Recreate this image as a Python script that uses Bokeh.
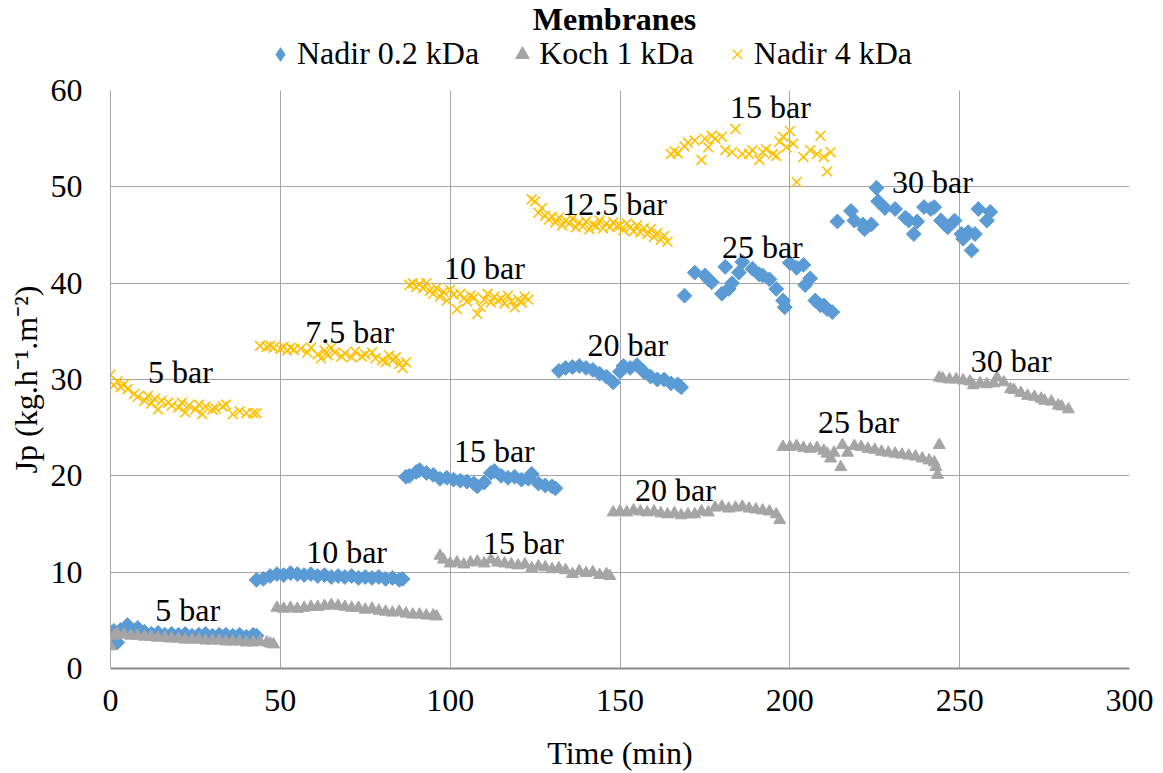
import numpy as np
from bokeh.plotting import figure
from bokeh.layouts import column
from bokeh.models import Range1d, Legend, LegendItem, FixedTicker
from bokeh.core.properties import value
from bokeh.embed import file_html
from bokeh.resources import INLINE

FONT = "Liberation Serif"
FS = "32px"
BLUE = "#5B9BD5"
GRAY = "#A5A5A5"
YELLOW = "#FFC000"

# ---------------- data ----------------
# Nadir 0.2 kDa : segments 5, 10, 15, 20, 25, 30 bar
nadir02_t = [
    0, 1, 2, 3, 5, 6, 8, 10, 12, 14, 16, 18, 20, 22, 24, 26, 28, 30, 32, 34, 36, 38, 40, 42, 43,
    43, 45, 47, 49, 51, 53, 55, 57, 59, 61, 63, 65, 67, 69, 71, 73, 75, 77, 79, 81, 83, 85, 86,
    87, 88, 90, 91, 93, 95, 97, 99, 101, 103, 105, 107, 108, 110, 112, 113, 115, 117, 119, 121, 123, 124, 126, 128, 130, 131,
    132, 134, 136, 138, 140, 142, 144, 146, 148, 150, 151, 153, 155, 157, 159, 161, 163, 165, 167, 168,
    169, 172, 175, 176, 177, 180, 181, 182, 183, 185, 186, 189, 191, 192, 194, 196, 198, 198.5, 200, 202, 204, 204.5, 206, 207.5, 209, 210, 211, 212.5,
    214, 218, 219, 221.5, 222, 224, 225.5, 226, 228, 231, 234, 235, 236.5, 237.5, 239.5, 241.5, 242.5, 244.5, 246.5, 248.5, 250.5, 251, 252.5, 253.5, 254.5, 255.5, 258, 259,
]
nadir02_jp = [
    3.8, 3.9, 2.7, 4.0, 4.5, 3.9, 4.2, 3.8, 3.6, 3.7, 3.5, 3.6, 3.5, 3.6, 3.4, 3.5, 3.6, 3.4, 3.5, 3.5, 3.4, 3.5, 3.3, 3.5, 3.4,
    9.2, 9.3, 9.6, 9.8, 9.7, 9.9, 9.8, 9.7, 9.8, 9.6, 9.7, 9.5, 9.6, 9.5, 9.6, 9.4, 9.5, 9.4, 9.5, 9.3, 9.4, 9.2, 9.3,
    19.9, 20.0, 20.4, 20.6, 20.3, 20.1, 19.7, 19.8, 19.6, 19.5, 19.4, 19.2, 18.9, 19.3, 20.3, 20.5, 20.0, 19.8, 19.9, 19.6, 19.7, 20.2, 19.2, 19.0, 18.9, 18.7,
    30.9, 31.2, 31.3, 31.4, 31.2, 31.0, 30.6, 30.3, 29.7, 30.8, 31.4, 31.2, 31.5, 30.8, 30.3, 30.0, 30.0, 29.6, 29.5, 29.2,
    38.7, 41.1, 40.8, 40.4, 40.1, 38.9, 41.7, 39.4, 40.0, 41.1, 42.2, 41.5, 40.9, 40.8, 40.4, 39.4, 38.2, 37.5, 42.1, 41.6, 41.9, 39.8, 40.5, 38.2, 37.7, 37.7, 37.3, 37.0,
    46.4, 47.5, 46.5, 46.1, 45.6, 46.1, 49.9, 48.5, 47.8, 47.7, 46.8, 46.5, 45.1, 46.4, 47.9, 47.7, 47.9, 46.5, 45.8, 46.5, 45.1, 44.6, 45.3, 43.4, 45.1, 47.7, 46.5, 47.4,
]

# Koch 1 kDa : segments 5, 10, 15, 20, 25, 30 bar
koch1_t = [
    0, 1, 2, 4, 6, 8, 10, 12, 14, 16, 18, 20, 22, 24, 26, 28, 30, 32, 34, 36, 38, 40, 42, 44, 46, 47, 48,
    49, 51, 53, 55, 57, 59, 61, 63, 65, 67, 69, 71, 73, 75, 77, 79, 81, 83, 85, 87, 89, 91, 93, 95, 96,
    97, 98, 100, 102, 104, 106, 108, 110, 112, 114, 116, 118, 120, 122, 124, 126, 128, 130, 132, 134, 136, 138, 140, 142, 144, 146, 147,
    148, 150, 152, 154, 156, 158, 160, 162, 164, 166, 168, 170, 172, 174, 176, 178, 180, 182, 184, 186, 188, 190, 192, 194, 196, 197,
    198, 200, 202, 204, 206, 208, 210, 211, 212, 213, 215, 215.5, 217, 219, 221, 223, 225, 227, 229, 231, 233, 235, 237, 239, 241, 242.5, 243, 243.5, 244,
    244, 245, 247, 249, 251, 253, 254, 256, 258, 260, 261, 263, 265, 266, 268, 270, 272, 274, 275, 277, 279, 280, 282,
]
koch1_jp = [
    2.3, 3.4, 3.6, 3.5, 3.4, 3.4, 3.3, 3.3, 3.2, 3.2, 3.1, 3.1, 3.0, 3.0, 3.0, 2.9, 2.9, 2.9, 2.8, 2.8, 2.8, 2.7, 2.7, 2.8, 2.7, 2.6, 2.5,
    6.3, 6.2, 6.3, 6.2, 6.3, 6.4, 6.4, 6.5, 6.6, 6.5, 6.4, 6.3, 6.3, 6.1, 6.2, 6.0, 5.9, 5.8, 5.9, 5.7, 5.6, 5.6, 5.5, 5.5, 5.4,
    11.7, 11.3, 10.9, 11.0, 10.8, 11.0, 11.1, 10.9, 11.3, 11.0, 10.9, 10.8, 10.7, 10.8, 10.4, 10.6, 10.5, 10.3, 10.4, 10.2, 9.8, 10.1, 9.9, 10.0, 9.7, 9.8, 9.6,
    16.2, 16.3, 16.2, 16.4, 16.3, 16.2, 16.3, 16.1, 16.0, 16.1, 15.9, 16.0, 16.0, 16.3, 16.2, 16.7, 16.8, 16.6, 16.7, 16.8, 16.6, 16.5, 16.4, 16.3, 16.0, 15.4,
    23.0, 23.0, 23.1, 22.9, 22.8, 22.9, 22.6, 22.3, 21.8, 22.4, 20.9, 23.2, 22.4, 23.1, 23.0, 22.8, 22.7, 22.5, 22.4, 22.3, 22.2, 22.1, 22.0, 21.8, 21.6, 21.4, 20.9, 20.1, 23.2,
    30.2, 30.1, 30.0, 30.0, 29.9, 29.8, 29.4, 29.6, 29.5, 29.6, 30.2, 29.7, 29.0, 28.9, 28.6, 28.3, 28.2, 28.0, 27.8, 27.7, 27.3, 27.2, 26.9,
]

# Nadir 4 kDa : segments 5, 7.5, 10, 12.5, 15 bar
nadir4_t = [
    0, 1, 2, 3, 4, 5, 7, 8, 10, 11, 12, 13, 14, 15, 17, 18, 20, 21, 22, 23, 25, 26, 27, 28, 30, 31, 33, 34, 36, 38, 40, 42, 43,
    44, 46, 47, 48, 50, 51, 52, 53, 54, 56, 58, 59, 61, 62, 63, 64, 65, 66, 68, 69, 71, 72, 74, 75, 77, 78, 80, 81, 82, 83, 84, 85, 86, 87,
    88, 89, 90, 91, 92, 93, 94, 95, 96, 97, 98, 99, 100, 101, 102, 103, 104, 105, 106, 107, 108, 109, 110, 111, 112, 113, 114, 115, 116, 117, 118, 119, 120, 121, 122, 123,
    124, 125, 126, 127, 128, 129, 130, 131, 132, 133, 134, 135, 136, 137, 138, 139, 140, 141, 142, 143, 144, 145, 146, 147, 148, 149, 150, 151, 152, 153, 154, 155, 156, 157, 158, 159, 160, 161, 162, 163, 164,
    165, 166, 167, 169, 170, 172, 174, 175, 176, 177, 178, 180, 181, 183, 184, 186, 188, 189, 191, 192, 193, 195, 196, 197, 198, 199, 200, 201, 202, 204, 206, 208, 209, 210, 211, 212,
]
nadir4_jp = [
    30.5, 29.4, 29.8, 29.2, 29.5, 29.0, 28.5, 28.2, 27.8, 28.3, 27.5, 28.0, 26.9, 27.8, 27.6, 27.3, 27.1, 27.6, 26.6, 27.3, 26.9, 27.4, 26.4, 27.2, 26.9, 27.0, 27.2, 27.4, 26.4, 26.7, 26.5, 26.5, 26.5,
    33.5, 33.4, 33.5, 33.3, 33.2, 33.4, 33.0, 33.3, 33.1, 33.2, 32.8, 33.3, 32.6, 32.2, 33.0, 32.5, 33.3, 32.8, 32.4, 32.7, 32.3, 32.9, 32.4, 32.6, 32.8, 32.2, 32.0, 31.8, 32.5, 32.0, 32.3, 31.6, 31.2, 31.8,
    39.8, 40.0, 39.6, 39.9, 39.5, 40.0, 39.2, 38.9, 39.5, 38.6, 39.1, 38.2, 39.3, 38.8, 37.3, 38.9, 38.4, 38.1, 38.7, 38.5, 36.8, 37.5, 38.3, 38.9, 38.0, 38.6, 38.2, 38.4, 37.9, 38.7, 38.1, 37.5, 38.3, 38.0, 38.6, 38.3,
    48.7, 48.5, 47.3, 47.8, 47.0, 46.6, 46.9, 46.3, 46.8, 46.0, 46.5, 46.2, 46.7, 45.8, 46.3, 45.9, 46.4, 45.6, 46.1, 45.9, 46.5, 45.7, 46.2, 45.8, 46.3, 45.9, 46.0, 45.5, 46.2, 45.8, 45.4, 46.0, 45.3, 45.7, 45.1, 45.6, 44.8, 45.2, 44.5, 44.9, 44.3,
    53.4, 53.7, 53.5, 54.2, 54.6, 54.8, 52.8, 55.0, 54.1, 55.3, 55.0, 55.2, 53.8, 53.6, 56.0, 53.4, 53.4, 53.8, 52.8, 53.6, 53.9, 53.4, 53.2, 54.7, 55.2, 54.1, 55.8, 54.5, 50.5, 53.1, 53.8, 53.4, 55.3, 53.1, 51.6, 53.6,
]

# pressure annotations
bar_labels = ["5 bar", "7.5 bar", "10 bar", "12.5 bar", "15 bar",
              "5 bar", "10 bar", "15 bar", "20 bar", "25 bar", "30 bar",
              "15 bar", "20 bar", "25 bar", "30 bar"]
bar_label_t = [20.6, 70.4, 110.1, 148.4, 194.3,
               22.7, 69.5, 113.0, 152.3, 191.9, 242.0,
               121.6, 166.3, 220.2, 265.2]
bar_label_jp = [30.8, 34.9, 41.6, 48.2, 58.3,
                6.1, 12.1, 22.6, 33.6, 43.8, 50.5,
                13.0, 18.5, 25.6, 31.9]

x_ticks = [0, 50, 100, 150, 200, 250, 300]
y_ticks = [0, 10, 20, 30, 40, 50, 60]
series_names = ["Nadir 0.2 kDa", "Koch 1 kDa", "Nadir 4 kDa"]
chart_title = "Membranes"
title_t = 148.4
x_label = "Time (min)"
y_label = "Jp (kg.h\u207b\u00b9.m\u207b\u00b2)"

assert len(nadir02_t) == len(nadir02_jp)
assert len(koch1_t) == len(koch1_jp)
assert len(nadir4_t) == len(nadir4_jp)

W = 1163
HEAD_H = 72
MAIN_H = 701
BL, BR = 110, 34

# ---------------- header: title + legend (frame aligned with the chart) ----------------
head = figure(width=W, height=HEAD_H, output_backend="svg", toolbar_location=None,
              x_range=Range1d(0, 300), y_range=Range1d(HEAD_H, 0),
              min_border_left=BL, min_border_right=BR, min_border_top=0, min_border_bottom=0,
              title=None)
head.axis.visible = False
head.grid.visible = False
head.outline_line_color = None
head.text(x=[title_t], y=[18], text=[chart_title], text_align="center", text_baseline="middle",
          text_font=value(FONT), text_font_size=FS, text_font_style="bold", text_color="black")
# hidden one-point copies of the series, only used to draw the legend glyphs
h_blue = head.scatter(x=nadir02_t[:1], y=nadir02_jp[:1], marker="diamond", size=14,
                      fill_color=BLUE, line_color=BLUE, visible=False)
h_gray = head.scatter(x=koch1_t[:1], y=koch1_jp[:1], marker="triangle", size=12,
                      fill_color=GRAY, line_color=GRAY, visible=False)
h_yel = head.scatter(x=nadir4_t[:1], y=nadir4_jp[:1], marker="x", size=13,
                     line_color=YELLOW, line_width=1.3, visible=False)
legend = Legend(items=[LegendItem(label=series_names[0], renderers=[h_blue]),
                       LegendItem(label=series_names[1], renderers=[h_gray]),
                       LegendItem(label=series_names[2], renderers=[h_yel])],
                location=(153, 0), orientation="horizontal",
                border_line_color=None, background_fill_alpha=0,
                label_text_font=FONT, label_text_font_size=FS, label_text_color="black",
                glyph_width=34, glyph_height=34, label_standoff=0, spacing=26,
                padding=0, margin=0, inactive_fill_alpha=0, click_policy="none")
head.add_layout(legend, "center")

# ---------------- main chart ----------------
p = figure(width=W, height=MAIN_H, output_backend="svg", toolbar_location=None,
           x_range=Range1d(0, 300), y_range=Range1d(0, 60),
           min_border_left=BL, min_border_right=BR, min_border_top=18, min_border_bottom=102,
           title=None)
p.outline_line_color = None

r_blue = p.scatter(nadir02_t, nadir02_jp, marker="square", angle=np.pi / 4, size=10.5,
                   fill_color=BLUE, line_color=BLUE)
r_gray = p.scatter(koch1_t, koch1_jp, marker="triangle", size=12,
                   fill_color=GRAY, line_color=GRAY)
r_yel = p.scatter(nadir4_t, nadir4_jp, marker="x", size=14, line_color=YELLOW, line_width=1.6)

p.text(x=bar_label_t, y=bar_label_jp, text=bar_labels, text_align="center",
       text_baseline="middle", text_font=value(FONT), text_font_size=FS, text_color="black")

p.xaxis.ticker = FixedTicker(ticks=x_ticks)
p.yaxis.ticker = FixedTicker(ticks=y_ticks)
p.xgrid.ticker = FixedTicker(ticks=x_ticks)
p.ygrid.ticker = FixedTicker(ticks=y_ticks)
for ax in (p.xaxis[0], p.yaxis[0]):
    ax.major_tick_line_color = None
    ax.minor_tick_line_color = None
    ax.major_tick_out = 0
    ax.major_tick_in = 0
    ax.major_label_text_font = FONT
    ax.major_label_text_font_size = FS
    ax.major_label_text_color = "black"
    ax.axis_label_text_font = FONT
    ax.axis_label_text_font_size = FS
    ax.axis_label_text_font_style = "normal"
    ax.axis_label_text_color = "black"
p.xaxis.major_label_standoff = 21
p.yaxis.major_label_standoff = 28
p.xaxis.axis_label = x_label
p.xaxis.axis_label_standoff = 21
p.yaxis.axis_label = y_label
p.yaxis.axis_label_standoff = 4
p.xaxis.axis_line_color = "#8C8C8C"
p.xaxis.axis_line_width = 2
p.yaxis.axis_line_color = "#A6A6A6"
p.yaxis.axis_line_width = 1
p.grid.grid_line_color = "#A6A6A6"
p.grid.grid_line_width = 1

layout = column(head, p, spacing=0)
open("out.html", "w").write(file_html(layout, INLINE))
